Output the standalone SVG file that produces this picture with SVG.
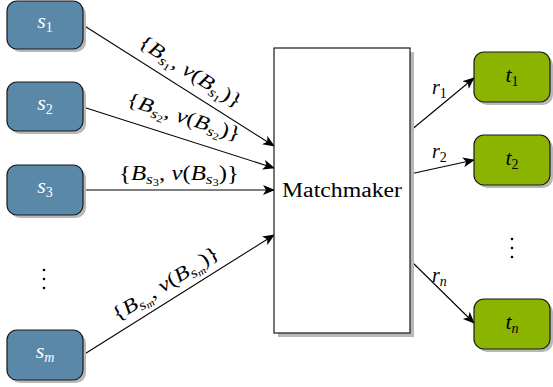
<svg xmlns="http://www.w3.org/2000/svg" width="553" height="387" viewBox="0 0 553 387" font-family="'Liberation Serif','Times New Roman',serif">
<defs>
<style>
.shadow{fill:#b8b8b8;}
.src{fill:#5a88a8;stroke:#1a1a1a;stroke-width:1.2;}
.tgt{fill:#8ab400;stroke:#1a1a1a;stroke-width:1.2;}
.mm{fill:#ffffff;stroke:#1a1a1a;stroke-width:1.2;}
.edge{stroke:#000;stroke-width:1.1;fill:none;marker-end:url(#arr);}
.math{font-family:"Liberation Serif","Times New Roman",serif;font-size:20px;fill:#000;}
.node{font-family:"Liberation Serif","Times New Roman",serif;font-size:22px;}
.it{font-style:italic;}
.sub{font-size:14px;font-style:italic;}
.subn{font-size:14px;font-style:normal;}
.sub2{font-size:10px;font-style:normal;}
.sub2i{font-size:10px;font-style:italic;}
.wl{fill:#ffffff;}
.dot{fill:#000;}
</style>
<marker id="arr" viewBox="0 0 12 10" refX="11" refY="5" markerWidth="12" markerHeight="10" markerUnits="userSpaceOnUse" orient="auto">
<path d="M0,0 L12,5 L0,10 L3,5 Z" fill="#000"/>
</marker>
</defs>

<g id="connectors">
<line class="edge" x1="83" y1="25" x2="274" y2="146"/>
<line class="edge" x1="83" y1="107" x2="274" y2="168"/>
<line class="edge" x1="83" y1="190" x2="274" y2="190"/>
<line class="edge" x1="83" y1="355" x2="274" y2="235"/>
<line class="edge" x1="410" y1="131" x2="474" y2="78"/>
<line class="edge" x1="410" y1="174" x2="474" y2="160"/>
<line class="edge" x1="410" y1="260" x2="474" y2="323"/>
<text class="math" transform="translate(187,77) rotate(32.4)" text-anchor="middle" textLength="118" lengthAdjust="spacingAndGlyphs">{<tspan class="it">B</tspan><tspan class="sub" dy="4">s</tspan><tspan class="sub2" dy="2">1</tspan><tspan dy="-6">, </tspan><tspan class="it">v</tspan>(<tspan class="it">B</tspan><tspan class="sub" dy="4">s</tspan><tspan class="sub2" dy="2">1</tspan><tspan dy="-6">)}</tspan></text>
<text class="math" transform="translate(182,123) rotate(17.7)" text-anchor="middle" textLength="118" lengthAdjust="spacingAndGlyphs">{<tspan class="it">B</tspan><tspan class="sub" dy="4">s</tspan><tspan class="sub2" dy="2">2</tspan><tspan dy="-6">, </tspan><tspan class="it">v</tspan>(<tspan class="it">B</tspan><tspan class="sub" dy="4">s</tspan><tspan class="sub2" dy="2">2</tspan><tspan dy="-6">)}</tspan></text>
<text class="math" x="179" y="180" text-anchor="middle" textLength="120" lengthAdjust="spacingAndGlyphs">{<tspan class="it">B</tspan><tspan class="sub" dy="4">s</tspan><tspan class="sub2" dy="2">3</tspan><tspan dy="-6">, </tspan><tspan class="it">v</tspan>(<tspan class="it">B</tspan><tspan class="sub" dy="4">s</tspan><tspan class="sub2" dy="2">3</tspan><tspan dy="-6">)}</tspan></text>
<text class="math" transform="translate(169,289) rotate(-32.1)" text-anchor="middle" textLength="122" lengthAdjust="spacingAndGlyphs">{<tspan class="it">B</tspan><tspan class="sub" dy="4">s</tspan><tspan class="sub2i" dy="2">m</tspan><tspan dy="-6">, </tspan><tspan class="it">v</tspan>(<tspan class="it">B</tspan><tspan class="sub" dy="4">s</tspan><tspan class="sub2i" dy="2">m</tspan><tspan dy="-6">)}</tspan></text>
<text class="math" x="432" y="94"><tspan class="it">r</tspan><tspan class="subn" dy="4">1</tspan></text>
<text class="math" x="432" y="158"><tspan class="it">r</tspan><tspan class="subn" dy="4">2</tspan></text>
<text class="math" x="432" y="282"><tspan class="it">r</tspan><tspan class="sub" dy="4">n</tspan></text>
</g>

<g id="s1">
<rect class="shadow" x="10" y="4" width="76" height="48" rx="10"/>
<rect class="src" x="7" y="1" width="76" height="48" rx="10"/>
<text class="node wl" x="45" y="28" text-anchor="middle"><tspan class="it">s</tspan><tspan class="subn" dy="4">1</tspan></text>
</g>
<g id="s2">
<rect class="shadow" x="10" y="85" width="76" height="49" rx="10"/>
<rect class="src" x="7" y="82" width="76" height="49" rx="10"/>
<text class="node wl" x="45" y="110" text-anchor="middle"><tspan class="it">s</tspan><tspan class="subn" dy="4">2</tspan></text>
</g>
<g id="s3">
<rect class="shadow" x="10" y="168" width="76" height="50" rx="10"/>
<rect class="src" x="7" y="165" width="76" height="50" rx="10"/>
<text class="node wl" x="45" y="193" text-anchor="middle"><tspan class="it">s</tspan><tspan class="subn" dy="4">3</tspan></text>
</g>
<g id="sdots">
<circle class="dot" cx="44" cy="270" r="1.3"/>
<circle class="dot" cx="44" cy="279" r="1.3"/>
<circle class="dot" cx="44" cy="288" r="1.3"/>
</g>
<g id="sm">
<rect class="shadow" x="10" y="333" width="76" height="50" rx="10"/>
<rect class="src" x="7" y="330" width="76" height="50" rx="10"/>
<text class="node wl" x="45" y="358" text-anchor="middle"><tspan class="it">s</tspan><tspan class="sub" dy="4">m</tspan></text>
</g>

<g id="matchmaker">
<rect class="shadow" x="278" y="52" width="136" height="285"/>
<rect class="mm" x="274" y="48" width="136" height="285"/>
<text class="math" x="342" y="197" text-anchor="middle" textLength="120" lengthAdjust="spacingAndGlyphs">Matchmaker</text>
</g>

<g id="t1">
<rect class="shadow" x="477" y="55" width="76" height="50" rx="10"/>
<rect class="tgt" x="474" y="52" width="76" height="50" rx="10"/>
<text class="node" x="512" y="82" text-anchor="middle"><tspan class="it">t</tspan><tspan class="subn" dy="4">1</tspan></text>
</g>
<g id="t2">
<rect class="shadow" x="477" y="138" width="76" height="50" rx="10"/>
<rect class="tgt" x="474" y="135" width="76" height="50" rx="10"/>
<text class="node" x="512" y="165" text-anchor="middle"><tspan class="it">t</tspan><tspan class="subn" dy="4">2</tspan></text>
</g>
<g id="tdots">
<circle class="dot" cx="512" cy="239" r="1.3"/>
<circle class="dot" cx="512" cy="248" r="1.3"/>
<circle class="dot" cx="512" cy="257" r="1.3"/>
</g>
<g id="tn">
<rect class="shadow" x="477" y="302" width="76" height="50" rx="10"/>
<rect class="tgt" x="474" y="299" width="76" height="50" rx="10"/>
<text class="node" x="512" y="329" text-anchor="middle"><tspan class="it">t</tspan><tspan class="sub" dy="4">n</tspan></text>
</g>
</svg>
